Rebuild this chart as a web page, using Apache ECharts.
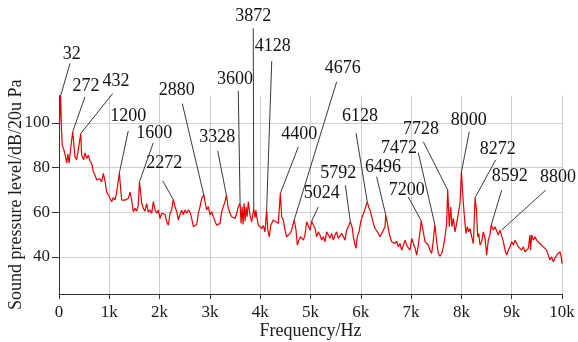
<!DOCTYPE html>
<html>
<head>
<meta charset="utf-8">
<script src="https://cdn.jsdelivr.net/npm/echarts@6/dist/echarts.min.js"></script>
<style>html,body{margin:0;padding:0;background:#fff}#c{width:578px;height:342px}</style>
</head>
<body>
<div id="c"></div>
<script>
// ---- data ----
const freqs = [8,32,48,64,96,128,153,176,200,232,272,300,318,350,384,432,450,490,517,550,583,616,650,683,716,750,782,815,848,881,914,948,981,1014,1047,1080,1113,1147,1200,1220,1246,1280,1313,1346,1379,1412,1445,1477,1511,1544,1575,1600,1644,1677,1710,1743,1776,1810,1843,1876,1910,1943,1975,2008,2041,2074,2108,2141,2174,2207,2240,2272,2306,2340,2373,2406,2439,2472,2505,2538,2571,2604,2638,2671,2704,2737,2770,2803,2837,2880,2903,2936,2969,3002,3035,3068,3101,3135,3168,3201,3234,3267,3300,3328,3366,3400,3433,3466,3499,3532,3565,3600,3620,3640,3660,3680,3700,3720,3740,3764,3797,3830,3872,3900,3915,3930,3963,3996,4029,4062,4095,4128,4150,4181,4210,4230,4261,4290,4310,4330,4360,4400,4427,4460,4493,4527,4560,4593,4626,4650,4676,4712,4738,4770,4800,4824,4860,4890,4924,4958,4990,5024,5056,5090,5122,5155,5188,5222,5255,5288,5321,5355,5388,5421,5454,5487,5520,5553,5586,5620,5653,5686,5719,5752,5792,5831,5851,5878,5905,5930,5965,5998,6031,6064,6097,6128,6160,6183,6216,6250,6283,6316,6349,6382,6415,6448,6481,6496,6530,6547,6581,6614,6647,6680,6713,6746,6779,6812,6845,6879,6912,6945,6978,7012,7045,7078,7111,7144,7177,7200,7243,7276,7309,7342,7376,7409,7442,7472,7508,7541,7575,7608,7641,7674,7707,7728,7760,7787,7813,7839,7873,7906,7939,7972,8000,8039,8065,8091,8118,8145,8172,8205,8238,8272,8300,8324,8345,8370,8404,8437,8470,8502,8535,8568,8592,8635,8668,8701,8734,8767,8800,8834,8867,8900,8933,8966,9000,9033,9066,9099,9132,9165,9198,9231,9264,9297,9330,9364,9374,9397,9430,9463,9496,9529,9562,9596,9629,9662,9695,9728,9761,9794,9827,9860,9893,9926,9960,9985,10000];
const levels = [99,112,98,90,88,85,82,86,82,88.5,96,89,84.8,83.5,88,95.2,85.5,83.5,86.5,84,85.5,83,81.8,78,76.6,74.4,73.9,75,73.5,77.4,74,69,67.7,66.2,64.7,66.5,65.5,69,77.6,72,65.4,65,65.4,65,66.2,69,65.4,60.2,61.7,60.5,63,73.6,64,61.7,60.5,63.8,60,61,59.5,64.7,61,59.5,61,57.2,59.5,59,59,55.7,54.2,59.5,61,65.7,62.4,60.2,56.5,59,60.9,59,61,59.5,61,60,57.2,53.5,53,54.5,59.5,62.4,66.2,67.6,64.7,61,62.5,58.7,60.2,58,56,54.2,54.2,55,60.2,61,64.7,67.6,61.7,59.5,58,58.7,57.2,59.5,62.4,64,55,62.4,54.5,64,56,62.4,58,64.7,58.7,55.7,61.5,57.5,61,58,54.2,53.5,52.7,54,51.2,61,52.2,49,54.2,53.5,56.5,57.2,55.7,56.5,55,68.4,58,56.5,52,49,48.3,50.5,52,54.2,56.5,52,45.3,47.5,49,49,47.5,49.8,55.7,55,52,56,54.2,52.7,49,51.2,49.8,47.5,49,46.8,51.2,49.8,48.3,50.5,47.5,49.8,51.2,48.3,49,50.5,49.8,47.5,52,53.5,55.7,53,49,46,43.8,49,51.2,55.7,58,57.2,62.4,64.7,62,61,58,55,52.7,52,50.5,49,50.5,49.8,53.5,58.7,55,52.7,49,46.8,47.5,46,47,44.5,46,43,45,47.5,45.3,44,43,48.3,46,44,40.8,45.3,51.2,56.2,51.2,46.8,47.5,45.3,43,41.5,47.5,54.5,47,41.5,40.3,41.5,44.5,49,55,69.9,53.5,62.4,53.5,57.2,51.2,55,59.5,63.9,78,63.9,56.5,50.5,53.5,51.2,52.7,49,46,66.5,61,49,50.5,45.3,46.8,51.2,48.3,40.8,47.5,49.8,54.2,52,53.5,52.7,49.8,52,52,46.8,43,40.8,43,44.5,46.8,45.3,47.5,46,44.5,45.3,43,44.5,42.3,41.5,43.8,49.8,43,49.8,47.5,49,47.5,46.8,46,45.3,44.5,43.8,43,40.8,38.6,40,37.8,39.3,40.8,41.5,42.3,40,37];
const xTickLabels = ['0','1k','2k','3k','4k','5k','6k','7k','8k','9k','10k'];
const yTickValues = [40,60,80,100];
const annoFreqs  = [32,272,432,1200,1600,2272,2880,3328,3600,3872,4128,4400,4676,5024,5792,6128,6496,7200,7472,7728,8000,8272,8592,8800];
const annoLevels = [112,96,95.2,77.6,73.6,65.7,67.6,67.6,64,61.5,61,68.4,56.5,56,55.7,64.7,58.7,56.2,54.5,69.9,78,66.5,54.2,52];
const annoTexts = annoFreqs.map(String);

// ---- annotation layout (pixel offsets from the peak: text centre, leader start) ----
const annoLayout = [
  [11.1,-41.6, 9.4,-32.6],[13.3,-45.6,12.3,-34.9],[35.3,-52.6,32,-40],[8.9,-57,8.9,-42],
  [14.8,-48.4,13.8,-39],[-9,-36,-10.6,-18.6],[-27.2,-105,-21.6,-91.7],[-9.1,-58.3,-8.7,-44.3],
  [-5.1,-123.8,-1.8,-112.4],[-0.5,-192.8,-0.5,-180.5],[6.1,-163.9,5.1,-148.9],[19,-59.3,18,-46.6],
  [48.5,-151.7,42.5,-138.3],[10,-27.7,6.6,-14.3],[-12,-48.9,-5,-36.6],[-7.2,-85,-11.2,-68.4],
  [-2.8,-47.7,-9.1,-38.3],[-14.5,-30.5,-12.9,-23.8],[-35.8,-76.1,-16.5,-71.7],[-26.7,-60.7,-24.4,-48.3],
  [7.3,-51.2,7.9,-40.2],[22.7,-48.5,20.6,-37.8],[18.5,-49,10.5,-35],[56.4,-52.7,44.1,-40]
];

const FONT = "'Liberation Serif','DejaVu Serif',serif";
const chart = echarts.init(document.getElementById('c'), null, {renderer:'canvas'});
const seriesData = freqs.map((f,i)=>[f, levels[i]]);

chart.setOption({
  animation:false,
  backgroundColor:'#fff',
  grid:{left:59, right:16, top:95.5, bottom:48, containLabel:false, outerBoundsMode:'none'},
  xAxis:{
    type:'value', min:0, max:10000, interval:1000,
    name:'Frequency/Hz', nameLocation:'middle', nameGap:28, nameMoveOverlap:false,
    nameTextStyle:{fontFamily:FONT, fontSize:18, color:'#1a1a1a'},
    axisLine:{lineStyle:{color:'#333', width:1}},
    axisTick:{show:true, length:5, lineStyle:{color:'#333'}},
    axisLabel:{fontFamily:FONT, fontSize:17, color:'#1a1a1a', margin:10,
      formatter:v=>xTickLabels[Math.round(v/1000)]},
    splitLine:{show:true, lineStyle:{color:'#cfcfcf', width:1}}
  },
  yAxis:{
    type:'value', min:23.4, max:112.2,
    name:'Sound pressure level/dB/20u Pa', nameLocation:'middle', nameGap:34, nameMoveOverlap:false,
    nameTextStyle:{fontFamily:FONT, fontSize:18, color:'#1a1a1a'},
    axisLine:{show:true, lineStyle:{color:'#333', width:1}},
    axisTick:{show:true, length:7, customValues:yTickValues, lineStyle:{color:'#333'}},
    axisLabel:{fontFamily:FONT, fontSize:17, color:'#1a1a1a', margin:9, customValues:yTickValues},
    splitLine:{show:true, lineStyle:{color:'#cfcfcf', width:1}}
  },
  series:[{
    type:'line', data:seriesData, showSymbol:false, symbol:'none',
    lineStyle:{color:'#e60000', width:1.2}, z:3
  }]
});

const gfx = [];
annoFreqs.forEach((f,i)=>{
  const p = chart.convertToPixel({xAxisIndex:0, yAxisIndex:0}, [f, annoLevels[i]]);
  const L = annoLayout[i];
  gfx.push({type:'line', silent:true, z:10,
    shape:{x1:p[0]+L[2], y1:p[1]+L[3], x2:p[0], y2:p[1]},
    style:{stroke:'#222', lineWidth:0.9}});
  gfx.push({type:'text', silent:true, z:11,
    x:p[0]+L[0], y:p[1]+L[1],
    style:{text:annoTexts[i], font:"18px " + FONT, fill:'#111', align:'center', verticalAlign:'middle'}});
});
chart.setOption({graphic:gfx});
</script>
</body>
</html>
